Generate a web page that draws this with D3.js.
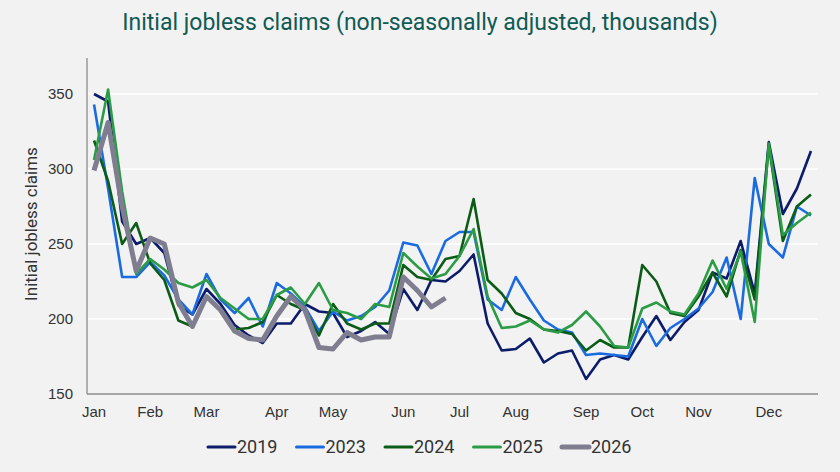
<!DOCTYPE html>
<html>
<head>
<meta charset="utf-8">
<script src="https://cdn.jsdelivr.net/npm/d3@7"></script>
<style>
  body { margin: 0; background: #f2f2f2; }
  svg { display: block; font-family: Roboto, "Noto Sans", sans-serif; }
  .axis path { stroke: #8c8c8c; stroke-width: 1.3; }
  .axis text { fill: #333; font-size: 15px; }
</style>
</head>
<body>
<div id="chart"></div>
<script>
// weekly claims, thousands (52 weeks; 2026 is year to date)
var s2019 = [350,345,265,250,254,244,209,203,220,210,196,189,184,197,197,210,205,204,188,192,198,190,220,206,226,225,
             232,243,197,179,180,187,171,177,179,160,173,176,173,188,202,186,198,206,231,227,252,217,318,270,287,312];
var s2023 = [343,287,228,228,238,229,213,203,230,213,204,214,195,224,217,208,192,205,199,202,208,219,251,249,230,252,
             258,258,213,206,228,213,199,193,191,176,177,176,175,200,182,194,200,207,218,241,200,294,250,241,275,269];
var s2024 = [319,292,250,264,237,226,199,195,215,206,193,194,198,216,210,206,189,210,197,193,197,197,236,228,226,240,
             242,280,226,217,204,200,193,192,190,179,186,181,181,236,225,204,202,215,231,215,246,213,316,252,275,283];
var s2025 = [306,353,285,230,240,233,224,221,226,214,207,200,200,216,221,210,224,206,204,200,210,208,244,235,227,230,
             242,260,215,194,195,199,193,191,196,205,195,182,181,207,211,205,203,217,239,220,245,198,317,256,264,271];
var s2026 = [299,331,275,232,254,250,211,195,215,206,192,187,186,202,215,206,181,180,191,186,188,188,228,219,208,214];

var years = ["2019","2023","2024","2025","2026"];
var monthNames = ["Jan","Feb","Mar","Apr","May","Jun","Jul","Aug","Sep","Oct","Nov","Dec"];
var monthWeeks = [0,4,8,13,17,22,26,30,35,39,43,48];
var yTicks = [150,200,250,300,350];

var series = [
  {name: "2019", values: s2019, color: "#0c1c6b", width: 2.6},
  {name: "2023", values: s2023, color: "#1b6be0", width: 2.6},
  {name: "2024", values: s2024, color: "#0b5c16", width: 2.6},
  {name: "2025", values: s2025, color: "#2b9c45", width: 2.6},
  {name: "2026", values: s2026, color: "#7e7e90", width: 5}
];

var W = 840, H = 472;
var svg = d3.select("#chart").append("svg")
  .attr("width", W).attr("height", H);

svg.append("rect").attr("width", W).attr("height", H).attr("fill", "#f2f2f2");

svg.append("text")
  .attr("x", 420).attr("y", 30)
  .attr("text-anchor", "middle")
  .attr("fill", "#0f5a54")
  .style("font-size", "23px")
  .text("Initial jobless claims (non-seasonally adjusted, thousands)");

var x = d3.scaleBand().domain(d3.range(52)).range([87, 818]).paddingInner(0);
var y = d3.scaleLinear().domain([150, 350]).range([394, 94]);

// gridlines
svg.append("g")
  .selectAll("line")
  .data(yTicks.slice(1))
  .enter().append("line")
  .attr("x1", 87).attr("x2", 818)
  .attr("y1", function(d) { return y(d); })
  .attr("y2", function(d) { return y(d); })
  .attr("stroke", "#ffffff")
  .attr("stroke-width", 1.5);

// y axis
var gy = svg.append("g")
  .attr("class", "axis")
  .attr("transform", "translate(87,0)")
  .call(d3.axisLeft(y).tickValues(yTicks).tickSize(0).tickPadding(14));
gy.select(".domain").attr("d", "M0," + 58 + "V" + y(150));

// x axis
var gx = svg.append("g")
  .attr("class", "axis")
  .attr("transform", "translate(0," + y(150) + ")")
  .call(d3.axisBottom(x).tickValues(monthWeeks).tickSize(0).tickPadding(12)
    .tickFormat(function(d, i) { return monthNames[i]; }));
gx.select(".domain").attr("d", "M87,0H818");

svg.append("text")
  .attr("transform", "translate(37,224) rotate(-90)")
  .attr("text-anchor", "middle")
  .attr("fill", "#333")
  .style("font-size", "17px")
  .text("Initial jobless claims");

var line = d3.line()
  .x(function(d, i) { return x(i) + x.bandwidth() / 2; })
  .y(function(d) { return y(d); });

svg.append("g")
  .selectAll("path")
  .data(series)
  .enter().append("path")
  .attr("fill", "none")
  .attr("stroke", function(d) { return d.color; })
  .attr("stroke-width", function(d) { return d.width; })
  .attr("stroke-linejoin", "round")
  .attr("d", function(d) { return line(d.values); });

// legend
var legX = d3.scalePoint().domain(years).range([208, 562]);
var leg = svg.append("g")
  .selectAll("g")
  .data(series)
  .enter().append("g")
  .attr("transform", function(d) { return "translate(" + legX(d.name) + ",447)"; });
leg.append("line")
  .attr("x1", 0).attr("x2", 27)
  .attr("stroke", function(d) { return d.color; })
  .attr("stroke-width", function(d) { return d.name == "2026" ? 5 : 3; })
  .attr("stroke-linecap", "round");
leg.append("text")
  .attr("x", 29).attr("dy", "0.36em")
  .attr("fill", "#333")
  .style("font-size", "18px")
  .text(function(d) { return d.name; });
</script>
</body>
</html>
